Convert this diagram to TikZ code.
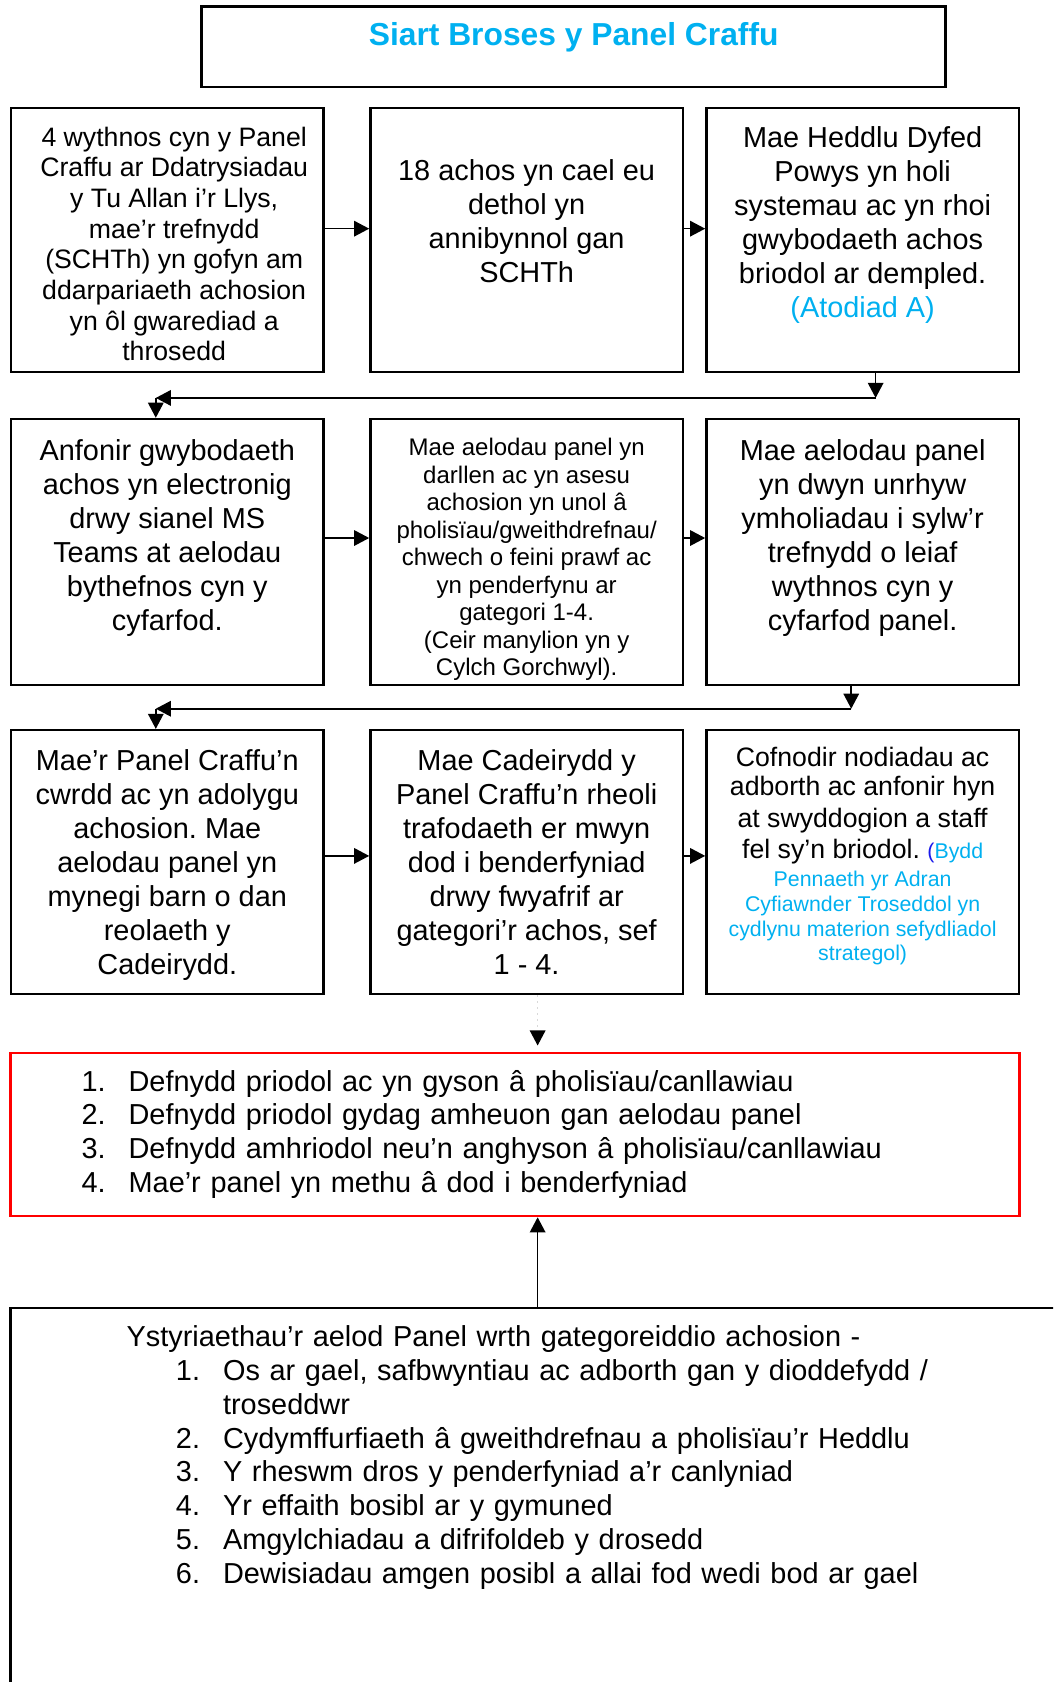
\documentclass[tikz,border=0pt]{standalone}
\usepackage{fontspec}
\setmainfont{Liberation Sans}
\frenchspacing
\definecolor{blue1}{RGB}{0, 176, 240}
\definecolor{blue2}{RGB}{25, 25, 235}
\definecolor{red1}{RGB}{255, 0, 0}
\usetikzlibrary{arrows.meta}
\usetikzlibrary{positioning,shapes,calc}
\newcommand{\fsz}[2]{\fontsize{#1}{#2}\selectfont}
\newcommand{\natspace}{\spaceskip=\fontdimen2\font\relax\xspaceskip=\spaceskip}
\tikzstyle{step_box} = [draw, line width=1.1pt, inner xsep=5pt, inner ysep=0pt, text width=130.6pt, align=center,
                        execute at begin node={\natspace}]
\tikzstyle{title_box} = [draw, line width=1.1pt, inner sep=0pt, minimum width=334.8pt, text=blue1, font=\bfseries\fsz{14.3}{16.4}]
\tikzstyle{res_box} = [draw=red1, line width=1.1pt, inner xsep=31.9pt, inner ysep=0pt, text width=390.2pt, align=left, font=\fsz{13}{15.1}]
\tikzstyle{cons_box} = [draw, line width=1.1pt, inner xsep=52.2pt, inner ysep=0pt, text width=377.4pt, align=left, font=\fsz{13}{15.2}]
\tikzstyle{arrow_step} = [->, draw=black, line width=0.7pt]
\tikzstyle{faint_step} = [-{Triangle[length=6.8pt,width=7pt,color=black]}, draw=black!15, dotted, line width=0.7pt]

\begin{document}
\begin{tikzpicture}[x=0.45pt, y=-0.45pt, > = {Triangle[length=6.8pt,width=7pt]}]
    \useasboundingbox (0,0) rectangle (1053,1682);
    \clip (0,0) rectangle (1053,1682);

    \node[title_box, text height=17.6pt, text depth=18.6pt] (title) at (573.7,46.6) {Siart Broses y Panel Craffu};

    % first row
    \node[step_box, font=\fsz{12}{13.8}, text height=17.2pt, text depth=101.6pt] (a) at (167.3,240)
      {\advance\leftskip 6.2pt\relax 4 wythnos cyn y Panel\\ Craffu ar Ddatrysiadau\\ y Tu Allan i’r Llys,\\ mae’r trefnydd\\ (SCHTh) yn gofyn am\\ ddarpariaeth achosion\\ yn ôl gwarediad a\\ \hspace*{6.2pt}throsedd};
    \node[step_box, font=\fsz{13}{15.3}, text height=32.8pt, text depth=86pt, right=20pt of a] (b)
      {18 achos yn cael eu\\ dethol yn\\ annibynnol gan\\ SCHTh};
    \node[step_box, font=\fsz{13}{15.3}, text height=17.6pt, text depth=101.2pt, right=9.5pt of b] (c)
      {Mae Heddlu Dyfed\\ Powys yn holi\\ systemau ac yn rhoi\\ gwybodaeth achos\\ briodol ar dempled.\\ \textcolor{blue1}{(Atodiad A)}};

    % second row
    \node[step_box, font=\fsz{13}{15.3}, text height=18.6pt, text depth=101.1pt, below=20.05pt of a] (d)
      {Anfonir gwybodaeth\\ achos yn electronig\\ drwy sianel MS\\ Teams at aelodau\\ bythefnos cyn y\\ cyfarfod.};
    \node[step_box, font=\fsz{10.8}{12.4}, text height=16.4pt, text depth=103.3pt, right=20pt of d] (e)
      {Mae aelodau panel yn\\ darllen ac yn asesu\\ achosion yn unol â\\ pholisïau/gweithdrefnau/\\ chwech o feini prawf ac\\ yn penderfynu ar\\ gategori 1-4.\\ (Ceir manylion yn y\\ Cylch Gorchwyl).};
    \node[step_box, font=\fsz{13}{15.3}, text height=18.6pt, text depth=101.1pt, right=9.5pt of e] (f)
      {Mae aelodau panel\\ yn dwyn unrhyw\\ ymholiadau i sylw’r\\ trefnydd o leiaf\\ wythnos cyn y\\ cyfarfod panel.};

    % third row
    \node[step_box, font=\fsz{13}{15.3}, text height=18.2pt, text depth=100.6pt, below=19.2pt of d] (g)
      {Mae’r Panel Craffu’n\\ cwrdd ac yn adolygu\\ achosion. Mae\\ aelodau panel yn\\ mynegi barn o dan\\ reolaeth y\\ Cadeirydd.};
    \node[step_box, font=\fsz{13}{15.3}, text height=18.2pt, text depth=100.6pt, right=20pt of g] (h)
      {Mae Cadeirydd y\\ Panel Craffu’n rheoli\\ trafodaeth er mwyn\\ dod i benderfyniad\\ drwy fwyafrif ar\\ gategori’r achos, sef\\ 1 - 4.};
    \node[step_box, font=\fsz{12}{11.1}, text height=16.3pt, text depth=102.5pt, right=9.5pt of h] (i)
      {Cofnodir nodiadau ac\\[2.05pt] adborth ac anfonir hyn\\[2.05pt] at swyddogion a staff\\[2.05pt] fel sy’n briodol. \fsz{9.6}{11.1}\natspace\textcolor{blue2}{(}\color{blue1}Bydd\\[1.5pt]
       Pennaeth yr Adran\\ Cyfiawnder Troseddol yn\\ cydlynu materion sefydliadol\\ strategol)};

    % outcome categories
    \node[res_box, text height=17.4pt, text depth=56.1pt] (res) at (515.1,1134.4)
      {\makebox[21.2pt][l]{1.}Defnydd priodol ac yn gyson â pholisïau/canllawiau\\
       \makebox[21.2pt][l]{2.}Defnydd priodol gydag amheuon gan aelodau panel\\
       \makebox[21.2pt][l]{3.}Defnydd amhriodol neu’n anghyson â pholisïau/canllawiau\\
       \makebox[21.2pt][l]{4.}Mae’r panel yn methu â dod i benderfyniad};

    \node[cons_box, text height=17.3pt, text depth=159.6pt, anchor=north west] (cons) at (9.4,1307)
      {Ystyriaethau’r aelod Panel wrth gategoreiddio achosion -\\
       \hspace*{22.2pt}\makebox[21.2pt][l]{1.}Os ar gael, safbwyntiau ac adborth gan y dioddefydd /\\
       \hspace*{43.4pt}troseddwr\\
       \hspace*{22.2pt}\makebox[21.2pt][l]{2.}Cydymffurfiaeth â gweithdrefnau a pholisïau’r Heddlu\\
       \hspace*{22.2pt}\makebox[21.2pt][l]{3.}Y rheswm dros y penderfyniad a’r canlyniad\\
       \hspace*{22.2pt}\makebox[21.2pt][l]{4.}Yr effaith bosibl ar y gymuned\\
       \hspace*{22.2pt}\makebox[21.2pt][l]{5.}Amgylchiadau a difrifoldeb y drosedd\\
       \hspace*{22.2pt}\makebox[21.2pt][l]{6.}Dewisiadau amgen posibl a allai fod wedi bod ar gael};

    % arrows along the rows
    \path
      \foreach \x/\y/\s in {a/b/5.1, b/c/5.1, d/e/6.3, e/f/6.3, g/h/2.8, h/i/2.8} {
        ([yshift=\s pt]\x.east) edge[arrow_step] ([yshift=\s pt]\y.west)
      } ;

    % row to row
    \coordinate (k1) at ($(c.south)+(13,24.7)$);
    \coordinate (k2) at ($(k1 -| d.north)+(-11.5,0)$);
    \coordinate (k3) at ($(f.south)+(-11.4,22.5)$);
    \coordinate (k4) at ($(k3 -| g.north)+(-11.5,0)$);
    \draw[arrow_step] (c.south -| k1) -- (k1);
    \draw[arrow_step] (k1) -- (k2);
    \draw[arrow_step] (k2) -- (d.north -| k2);
    \draw[arrow_step] (f.south -| k3) -- (k3);
    \draw[arrow_step] (k3) -- (k4);
    \draw[arrow_step] (k4) -- (g.north -| k4);

    \coordinate (m) at ($(h.south)+(11,0)$);
    \draw[faint_step] (m) -- ($(res.north -| m)+(0,-6)$);
    \draw[arrow_step] (cons.north -| m) -- (res.south -| m);
\end{tikzpicture}
\end{document}
